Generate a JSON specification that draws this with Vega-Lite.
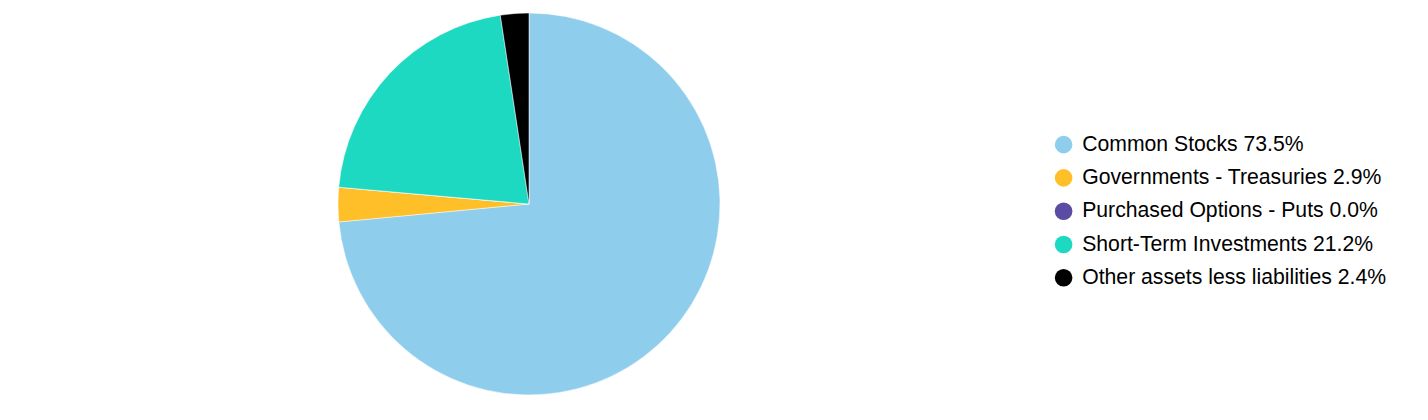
{
  "$schema": "https://vega.github.io/schema/vega-lite/v6.json",
  "width": 1058,
  "height": 408,
  "padding": {"left": 0, "top": 0, "right": 370, "bottom": 12},
  "autosize": {"type": "none"},
  "background": "white",
  "config": {"view": {"stroke": null}},
  "data": {
    "values": [
      {"label": "Common Stocks 73.5%", "pct": 73.5, "rank": 1},
      {"label": "Governments - Treasuries 2.9%", "pct": 2.9, "rank": 2},
      {"label": "Purchased Options - Puts 0.0%", "pct": 0.0, "rank": 3},
      {"label": "Short-Term Investments 21.2%", "pct": 21.2, "rank": 4},
      {"label": "Other assets less liabilities 2.4%", "pct": 2.4, "rank": 5}
    ]
  },
  "mark": {"type": "arc", "outerRadius": 191, "stroke": "white", "strokeWidth": 0.5},
  "encoding": {
    "theta": {"field": "pct", "type": "quantitative", "stack": true},
    "order": {"field": "rank", "type": "quantitative", "sort": "ascending"},
    "color": {
      "field": "label",
      "type": "nominal",
      "scale": {
        "domain": [
          "Common Stocks 73.5%",
          "Governments - Treasuries 2.9%",
          "Purchased Options - Puts 0.0%",
          "Short-Term Investments 21.2%",
          "Other assets less liabilities 2.4%"
        ],
        "range": ["#8ecdeb", "#febf29", "#5a4ba3", "#1dd9c2", "#000000"]
      },
      "legend": {
        "title": null,
        "orient": "none",
        "legendX": 1053,
        "legendY": 134,
        "symbolType": "circle",
        "symbolSize": 310,
        "symbolStrokeWidth": 0,
        "labelFont": "Arial",
        "labelFontSize": 21.2,
        "labelColor": "#000000",
        "labelOffset": 8,
        "rowPadding": 11.3,
        "labelLimit": 400
      }
    }
  }
}
